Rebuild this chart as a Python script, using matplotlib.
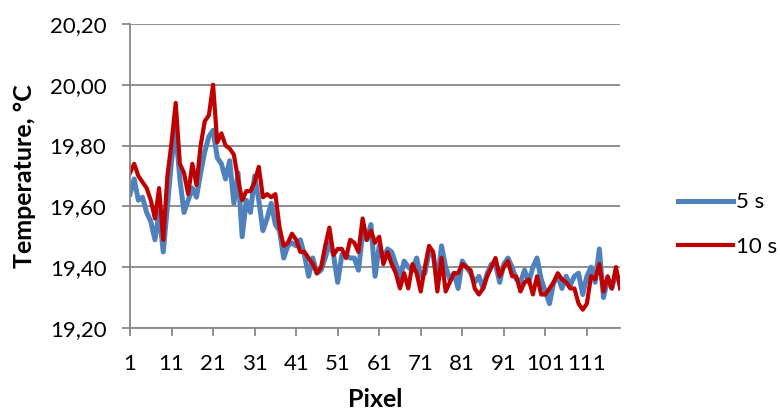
import matplotlib.pyplot as plt

plt.rcParams['font.family'] = ['Lato', 'DejaVu Sans']

# temperatures per pixel, 5 s and 10 s exposure
temp_5s = [19.64, 19.69, 19.62, 19.63, 19.58, 19.55, 19.49, 19.58, 19.45, 19.60,
           19.75, 19.85, 19.69, 19.58, 19.62, 19.66, 19.63, 19.71, 19.78, 19.83,
           19.85, 19.76, 19.74, 19.69, 19.75, 19.61, 19.71, 19.50, 19.62, 19.58,
           19.70, 19.62, 19.52, 19.56, 19.61, 19.54, 19.52, 19.43, 19.47, 19.48,
           19.47, 19.49, 19.44, 19.37, 19.43, 19.38, 19.39, 19.43, 19.48, 19.44,
           19.35, 19.44, 19.44, 19.43, 19.43, 19.39, 19.51, 19.49, 19.54, 19.37,
           19.47, 19.43, 19.46, 19.45, 19.41, 19.36, 19.42, 19.40, 19.39, 19.43,
           19.37, 19.38, 19.45, 19.44, 19.35, 19.47, 19.40, 19.36, 19.38, 19.33,
           19.42, 19.40, 19.38, 19.35, 19.37, 19.33, 19.38, 19.41, 19.41, 19.35,
           19.41, 19.43, 19.40, 19.36, 19.35, 19.39, 19.35, 19.40, 19.43, 19.36,
           19.32, 19.28, 19.35, 19.37, 19.33, 19.37, 19.34, 19.37, 19.38, 19.31,
           19.37, 19.40, 19.35, 19.46, 19.30, 19.36, 19.33, 19.38, 19.35]

temp_10s = [19.71, 19.74, 19.70, 19.68, 19.66, 19.62, 19.56, 19.66, 19.49, 19.70,
            19.81, 19.94, 19.74, 19.71, 19.64, 19.74, 19.67, 19.80, 19.88, 19.90,
            20.00, 19.81, 19.84, 19.80, 19.79, 19.77, 19.69, 19.62, 19.65, 19.65,
            19.68, 19.73, 19.63, 19.64, 19.63, 19.64, 19.53, 19.47, 19.48, 19.51,
            19.49, 19.45, 19.45, 19.43, 19.41, 19.38, 19.40, 19.47, 19.53, 19.44,
            19.46, 19.46, 19.43, 19.49, 19.48, 19.45, 19.56, 19.49, 19.52, 19.48,
            19.50, 19.41, 19.45, 19.41, 19.38, 19.33, 19.38, 19.33, 19.41, 19.38,
            19.32, 19.40, 19.47, 19.45, 19.32, 19.43, 19.32, 19.35, 19.38, 19.38,
            19.41, 19.40, 19.39, 19.33, 19.31, 19.33, 19.37, 19.40, 19.43, 19.37,
            19.40, 19.42, 19.37, 19.37, 19.32, 19.35, 19.36, 19.31, 19.37, 19.31,
            19.31, 19.33, 19.35, 19.38, 19.36, 19.35, 19.33, 19.33, 19.28, 19.26,
            19.28, 19.37, 19.36, 19.41, 19.32, 19.37, 19.33, 19.40, 19.33]

pixels = list(range(1, len(temp_10s) + 1))
y_ticks = [19.2, 19.4, 19.6, 19.8, 20.0, 20.2]
x_ticks = list(range(1, 112, 10))

fig = plt.figure(figsize=(7.8, 4.12), dpi=100)
ax = fig.add_axes([0.1667, 0.204, 0.795 - 0.1667, 0.942 - 0.204])

ax.plot(pixels, temp_5s, color='#4F81BD', lw=3.6, label='5 s')
ax.plot(pixels, temp_10s, color='#C00000', lw=3.0, label='10 s')

ax.set_xlim(1, len(pixels))
ax.set_ylim(19.2, 20.2)
ax.set_yticks(y_ticks)
ax.set_yticklabels([f'{v:.2f}'.replace('.', ',') for v in y_ticks], fontsize=16)
ax.set_xticks(x_ticks)
ax.set_xticklabels([str(v) for v in x_ticks], fontsize=16)

ax.grid(axis='y', color='#878787', lw=1.3)
ax.set_axisbelow(True)
for s in ['top', 'right']:
    ax.spines[s].set_visible(False)
for s in ['left', 'bottom']:
    ax.spines[s].set_color('#878787')
    ax.spines[s].set_linewidth(1.3)
ax.tick_params(axis='y', color='#878787', width=1.3, length=6, pad=11)
ax.tick_params(axis='x', color='#878787', width=1.3, length=6, pad=13)

ax.set_xlabel('Pixel', fontsize=18, fontweight='bold', labelpad=10)
ax.set_ylabel('Temperature, °C', fontsize=18, fontweight='bold', labelpad=10)

fig.legend(loc='center left', bbox_to_anchor=(0.843, 0.455), frameon=False,
           fontsize=16, handlelength=2.5, handletextpad=0.15, labelspacing=1.1)

plt.savefig('out.png', dpi=100)
